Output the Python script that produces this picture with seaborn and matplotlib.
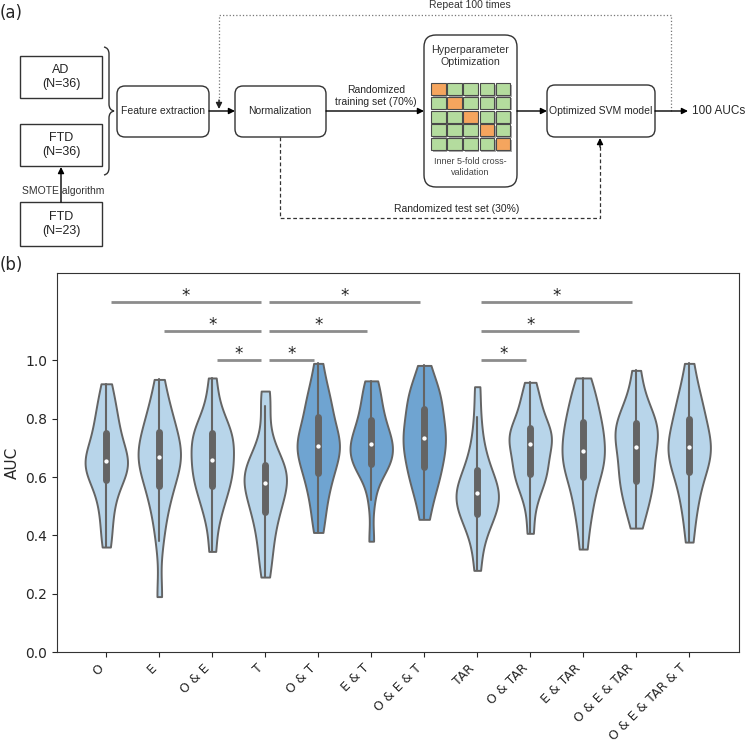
import numpy as np
import pandas as pd
import matplotlib
matplotlib.use("Agg")
import matplotlib.pyplot as plt
import seaborn as sns
from matplotlib.patches import FancyBboxPatch, Rectangle, PathPatch
from matplotlib.path import Path

# ---- data (AUC values, ~5 % quantile steps) ----
groups = ["O", "E", "O & E", "T", "O & T", "E & T", "O & E & T", "TAR",
          "O & TAR", "E & TAR", "O & E & TAR", "O & E & TAR & T"]
auc_O = [0.36, 0.42, 0.48, 0.52, 0.56, 0.59, 0.605, 0.62, 0.635, 0.645, 0.655,
         0.665, 0.68, 0.70, 0.725, 0.75, 0.775, 0.80, 0.835, 0.87, 0.92]
auc_E = [0.19, 0.38, 0.46, 0.51, 0.54, 0.57, 0.60, 0.62, 0.64, 0.655, 0.668,
         0.68, 0.695, 0.71, 0.73, 0.755, 0.78, 0.80, 0.83, 0.87, 0.935]
auc_OE = [0.345, 0.44, 0.49, 0.52, 0.55, 0.57, 0.59, 0.61, 0.625, 0.64, 0.66,
          0.68, 0.70, 0.715, 0.73, 0.75, 0.76, 0.78, 0.81, 0.86, 0.94]
auc_T = [0.257, 0.32, 0.37, 0.41, 0.45, 0.48, 0.50, 0.52, 0.54, 0.56, 0.58,
         0.595, 0.605, 0.615, 0.625, 0.64, 0.66, 0.69, 0.74, 0.845, 0.895]
auc_OT = [0.41, 0.47, 0.52, 0.56, 0.59, 0.615, 0.64, 0.66, 0.68, 0.695, 0.706,
          0.72, 0.735, 0.75, 0.77, 0.805, 0.83, 0.855, 0.88, 0.92, 0.99]
auc_ET = [0.38, 0.52, 0.60, 0.625, 0.64, 0.645, 0.66, 0.675, 0.69, 0.70, 0.715,
          0.725, 0.735, 0.75, 0.77, 0.795, 0.815, 0.84, 0.87, 0.91, 0.93]
auc_OET = [0.455, 0.52, 0.56, 0.59, 0.61, 0.635, 0.66, 0.68, 0.70, 0.715, 0.733,
           0.75, 0.77, 0.79, 0.81, 0.835, 0.86, 0.88, 0.90, 0.93, 0.983]
auc_TAR = [0.28, 0.36, 0.41, 0.44, 0.46, 0.475, 0.49, 0.505, 0.52, 0.535, 0.545,
           0.555, 0.565, 0.58, 0.60, 0.623, 0.65, 0.68, 0.73, 0.805, 0.91]
auc_OTAR = [0.407, 0.50, 0.55, 0.58, 0.60, 0.61, 0.63, 0.65, 0.67, 0.69, 0.715,
            0.725, 0.735, 0.745, 0.755, 0.77, 0.79, 0.82, 0.85, 0.88, 0.925]
auc_ETAR = [0.353, 0.44, 0.49, 0.53, 0.565, 0.60, 0.62, 0.64, 0.655, 0.67, 0.69,
            0.71, 0.73, 0.75, 0.77, 0.788, 0.81, 0.84, 0.87, 0.90, 0.94]
auc_OETAR = [0.425, 0.48, 0.51, 0.54, 0.565, 0.587, 0.61, 0.63, 0.65, 0.675, 0.703,
             0.72, 0.735, 0.75, 0.765, 0.785, 0.80, 0.82, 0.85, 0.89, 0.966]
auc_all = [0.377, 0.46, 0.51, 0.55, 0.585, 0.617, 0.635, 0.655, 0.67, 0.685, 0.703,
           0.72, 0.735, 0.75, 0.775, 0.80, 0.825, 0.85, 0.88, 0.92, 0.99]
auc_values = [auc_O, auc_E, auc_OE, auc_T, auc_OT, auc_ET, auc_OET, auc_TAR,
              auc_OTAR, auc_ETAR, auc_OETAR, auc_all]
highlight = ["O & T", "E & T", "O & E & T"]

# significant pairs (left, right, bar height)
sig_pairs = [("O", "T", 1.2), ("E", "T", 1.1), ("O & E", "T", 1.0),
             ("T", "O & E & T", 1.2), ("T", "E & T", 1.1), ("T", "O & T", 1.0),
             ("TAR", "O & E & TAR", 1.2), ("TAR", "E & TAR", 1.1), ("TAR", "O & TAR", 1.0)]

n_folds = 5

df = pd.DataFrame({"group": np.repeat(groups, [len(v) for v in auc_values]),
                   "AUC": np.concatenate(auc_values)})

light = "#b8d5ea"
dark = "#6fa4d1"
pal = {g: (dark if g in highlight else light) for g in groups}

sns.set_style("ticks")
plt.rcParams["font.family"] = ["DejaVu Sans"]

fig = plt.figure(figsize=(7.46, 7.43), dpi=100)

# ---------------- panel (a): flowchart in pixel coordinates ----------------
ax0 = fig.add_axes([0, 0, 1, 1])
ax0.set_xlim(0, 746)
ax0.set_ylim(743, 0)
ax0.axis("off")
ff = ["Liberation Sans", "DejaVu Sans"]
fs_flow = 7.5


def sq_box(x, y, w, h, txt, fs=9):
    ax0.add_patch(Rectangle((x, y), w, h, fill=False, ec="#333333", lw=1))
    ax0.text(x + w / 2, y + h / 2, txt, ha="center", va="center", fontsize=fs,
             family=ff, linespacing=1.3, color="#222222")


def rnd_box(x, y, w, h, r=8):
    ax0.add_patch(FancyBboxPatch((x, y), w, h, boxstyle="round,pad=0,rounding_size=%d" % r,
                                 fill=False, ec="#333333", lw=1))


def arrow(p0, p1, ls="-", color="k"):
    ax0.annotate("", xy=p1, xytext=p0,
                 arrowprops=dict(arrowstyle="-|>", color=color, lw=1, ls=ls,
                                 shrinkA=0, shrinkB=0, mutation_scale=9))


ax0.text(0, 13, "(a)", fontsize=12, va="center", ha="left")
ax0.text(0, 265, "(b)", fontsize=12, va="center", ha="left")

sq_box(20, 56, 82, 42, "AD\n(N=36)")
sq_box(20, 124, 82, 42, "FTD\n(N=36)")
sq_box(20, 202, 82, 44, "FTD\n(N=23)")
arrow((61, 202), (61, 167))
ax0.text(63, 191, "SMOTE algorithm", ha="center", va="center", fontsize=fs_flow, family=ff, color="#333333")

# brace
verts = [(104, 47), (109, 48), (109, 54), (109, 104), (109, 110), (114, 111),
         (109, 112), (109, 118), (109, 168), (109, 174), (104, 175)]
codes = [Path.MOVETO, Path.CURVE3, Path.CURVE3, Path.LINETO, Path.CURVE3, Path.CURVE3,
         Path.CURVE3, Path.CURVE3, Path.LINETO, Path.CURVE3, Path.CURVE3]
ax0.add_patch(PathPatch(Path(verts, codes), fill=False, ec="#333333", lw=1))

rnd_box(117, 86, 92, 51)
ax0.text(163, 111, "Feature extraction", ha="center", va="center", fontsize=fs_flow, family=ff)
arrow((209, 111), (235, 111))
rnd_box(235, 86, 91, 51)
ax0.text(280, 111, "Normalization", ha="center", va="center", fontsize=fs_flow, family=ff)

# repeat loop (dotted)
ax0.plot([671, 671, 219, 219], [111, 15, 15, 102], ls=":", color="#777777", lw=0.9)
arrow((219, 100), (219, 109), color="#222222")
ax0.text(470, 5, "Repeat 100 times", ha="center", va="center", fontsize=fs_flow, family=ff, color="#333333")

arrow((326, 111), (424, 111))
ax0.text(376, 96, "Randomized\ntraining set (70%)", ha="center", va="center", fontsize=fs_flow,
         family=ff, linespacing=1.25)

rnd_box(424, 35, 93, 152, r=12)
ax0.text(470, 56, "Hyperparameter\nOptimization", ha="center", va="center", fontsize=7.7,
         family=ff, linespacing=1.3, color="#333333")
for i in range(n_folds):
    for j in range(n_folds):
        cx = 431 + j * 16.2
        cy = 83 + i * 13.8
        ax0.add_patch(Rectangle((cx + 1.5, cy + 1.5), 14.5, 12, fc="#aaaaaa", ec="none"))
        fc = "#f5a55e" if i == j else "#b4dc9e"
        ax0.add_patch(Rectangle((cx, cy), 14.5, 12, fc=fc, ec="#4a4a4a", lw=0.8))
ax0.text(470, 167, "Inner 5-fold cross-\nvalidation", ha="center", va="center", fontsize=6.5,
         family=ff, linespacing=1.25, color="#444444")

arrow((517, 111), (547, 111))
rnd_box(547, 85, 108, 52)
ax0.text(601, 111, "Optimized SVM model", ha="center", va="center", fontsize=fs_flow, family=ff)
arrow((655, 111), (688, 111))
ax0.text(692, 111, "100 AUCs", ha="left", va="center", fontsize=8.5, family=ff)

# test set (dashed)
ax0.plot([280, 280, 600, 600], [137, 218, 218, 145], ls=(0, (3, 2)), color="#333333", lw=0.9)
arrow((600, 147), (600, 138), ls="-")
ax0.text(457, 209, "Randomized test set (30%)", ha="center", va="center", fontsize=fs_flow, family=ff)

# ---------------- panel (b): violins ----------------
ax = fig.add_axes([57 / 746, 91 / 743, 682 / 746, 379 / 743])
sns.violinplot(data=df, x="group", y="AUC", hue="group", palette=pal, legend=False,
               order=groups, hue_order=groups, cut=0, bw_adjust=0.75, width=0.8,
               linewidth=1.4, linecolor="#646464", saturation=1, ax=ax,
               inner_kws=dict(box_width=5, whis_width=1.5, marker="."))

pos = {g: i for i, g in enumerate(groups)}
for a, b, h in sig_pairs:
    x0, x1 = pos[a] + 0.08, pos[b] - 0.08
    ax.plot([x0, x1], [h, h], color="#8c8c8c", lw=2, solid_capstyle="butt")
    ax.text((x0 + x1) / 2, h + 0.022, "*", ha="center", va="center", fontsize=12, color="#222222")

ax.set_xlim(-0.93, 11.94)
ax.set_ylim(0, 1.3)
ax.set_yticks([0, 0.2, 0.4, 0.6, 0.8, 1.0])
ax.set_yticklabels(["0.0", "0.2", "0.4", "0.6", "0.8", "1.0"], fontsize=10)
ax.set_xlabel("")
ax.set_ylabel("AUC", fontsize=11)
ax.set_xticks(range(len(groups)))
ax.set_xticklabels(groups, rotation=45, ha="right", fontsize=9)
for s in ax.spines.values():
    s.set_color("#333333")

fig.savefig("out.png", dpi=100)
